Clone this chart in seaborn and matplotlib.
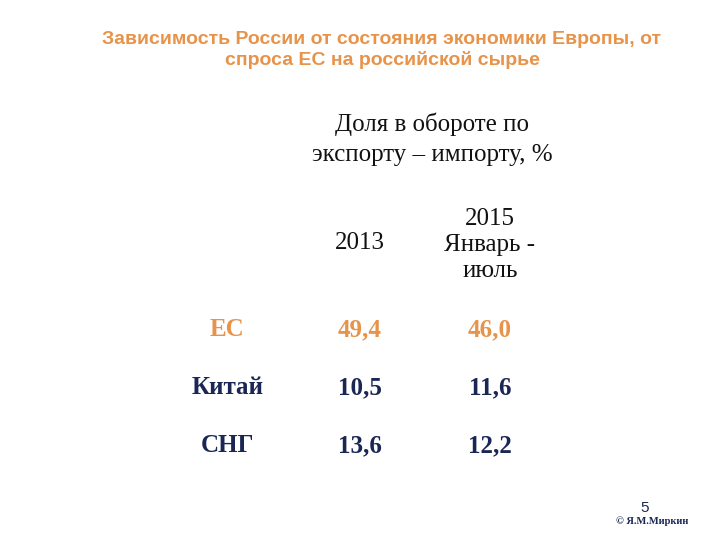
import matplotlib
matplotlib.use("Agg")
import matplotlib.pyplot as plt
import seaborn as sns
import numpy as np
from matplotlib.colors import ListedColormap

rows = ["ЕС", "Китай", "СНГ"]
cols = ["2013", "2015\nЯнварь -\nиюль"]
v2013 = [49.4, 10.5, 13.6]
v2015 = [46.0, 11.6, 12.2]
row_colors = ["#E8934A", "#1A2654", "#1A2654"]

vals = np.array([v2013, v2015]).T
labels = np.array([[f"{v:.1f}".replace(".", ",") for v in r] for r in vals])

fig = plt.figure(figsize=(7.2, 5.4), dpi=100)
fig.patch.set_facecolor("white")
ax = fig.add_axes([295/720, 1-475/540, 260/720, 174/540])
sns.heatmap(vals, ax=ax, cmap=ListedColormap(["white"]), cbar=False,
            annot=labels, fmt="", xticklabels=False, yticklabels=False,
            annot_kws={"family": "Liberation Serif", "size": 18, "weight": "bold"})
for i, t in enumerate(ax.texts):
    t.set_color(row_colors[i // 2])
for i, r in enumerate(rows):
    ax.text(-0.52, i + 0.5, r, ha="center", va="center", family="Liberation Serif",
            size=18, weight="bold", color=row_colors[i])
ax.set_xlabel(""); ax.set_ylabel("")

serif = dict(family="Liberation Serif", size=18, color="#111111")
fig.text(360/720, 1-243/540, cols[0], ha="center", va="center", **serif)
fig.text(490/720, 1-245/540, cols[1], ha="center", va="center", linespacing=1.25, **serif)
fig.text(432/720, 1-139/540, "Доля в обороте по\nэкспорту – импорту, %", ha="center",
         va="center", linespacing=1.45, **serif)

title = "Зависимость России от состояния экономики Европы, от\nспроса ЕС на российской сырье"
fig.text(382/720, 1-50/540, title, ha="center", va="center", family="Liberation Sans",
         weight="bold", size=14, color="#E8934A", linespacing=1.25)
fig.text(645/720, 1-508/540, "5", ha="center", va="center", family="Liberation Sans",
         size=11, color="#1A2654")
fig.text(652/720, 1-521/540, "© Я.М.Миркин", ha="center", va="center",
         family="Liberation Serif", size=7.5, weight="bold", color="#1A2654")
fig.savefig("out.png", dpi=100, facecolor="white")
